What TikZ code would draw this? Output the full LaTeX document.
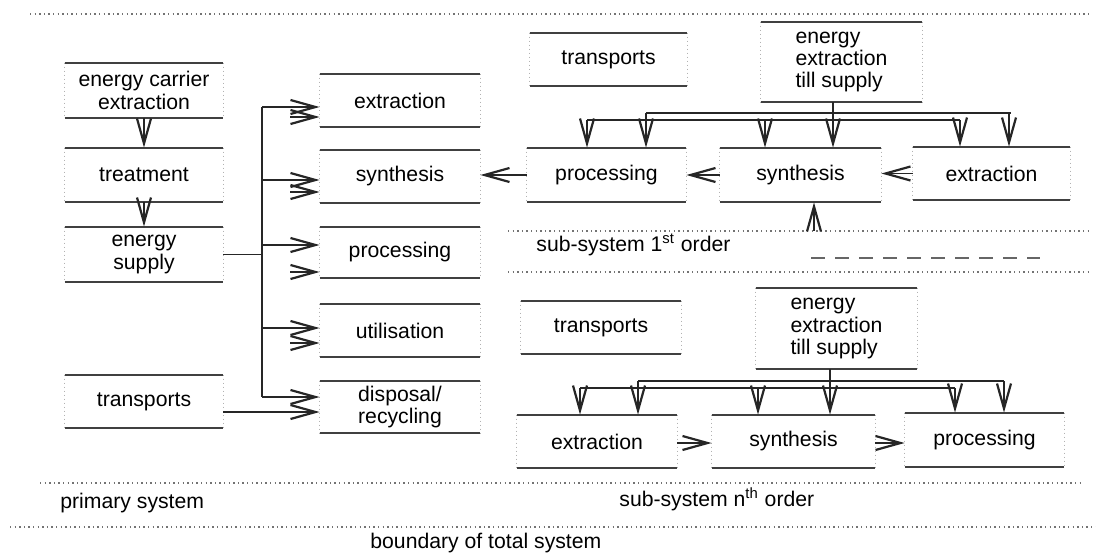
\documentclass[tikz,border=0pt]{standalone}
\usepackage{fontspec}
\setmainfont{Liberation Sans}
\usetikzlibrary{arrows.meta}

\tikzset{
  unit/.style={rectangle, inner sep=2pt, align=center, font=\fontsize{10.6pt}{11.2pt}\selectfont},
  rim/.style={line width=1pt, draw=black!75},
  flank/.style={line width=0.4pt, draw=black!30, dash pattern=on 0.6pt off 1.4pt},
  conn/.style={line width=0.6pt, draw=black!85, ->},
  fence/.style={line width=0.6pt, draw=black!55, dash pattern=on 0.7pt off 1.6pt},
  caption/.style={anchor=west, inner sep=0pt, font=\fontsize{10.6pt}{12pt}\selectfont},
  >={Straight Barb[length=12.5pt,width=7pt,line width=1.1pt]}
}

\begin{document}
\begin{tikzpicture}[x=0.5pt, y=-0.5pt]
  \useasboundingbox (0,0) rectangle (1096,558);

  % System boundaries
  \draw[fence] (30,14) -- (1092,14);
  \draw[fence] (508,231) -- (1092,231);
  \draw[fence] (508,272) -- (1092,272);
  \draw[fence] (40,483) -- (1080,483);
  \draw[fence] (10,527) -- (1096,527);
  \draw[line width=0.6pt, draw=black!60, dash pattern=on 7pt off 5pt] (811,258) -- (1040,258);

  % Primary system, chain
  \node[unit, minimum width=79pt, minimum height=27.5pt] (ece) at (144,90.5) {energy carrier\\extraction};
  \node[unit, minimum width=79pt, minimum height=27pt] (treat) at (144,175) {treatment};
  \node[unit, minimum width=79pt, minimum height=27.5pt] (esup) at (144,254.5) {energy\\supply};
  \node[unit, minimum width=79pt, minimum height=26.5pt] (ptran) at (144,401.5) {transports};

  % Primary system, stages
  \node[unit, minimum width=80pt, minimum height=26.5pt] (mext) at (400,100.5) {extraction};
  \node[unit, minimum width=80pt, minimum height=26.5pt] (msyn) at (400,176.5) {synthesis};
  \node[unit, minimum width=80pt, minimum height=25.5pt] (mproc) at (400,252.5) {processing};
  \node[unit, minimum width=80pt, minimum height=26.5pt] (mutil) at (400,330.5) {utilisation};
  \node[unit, minimum width=80pt, minimum height=26pt] (mdisp) at (400,407) {disposal/\\recycling};

  % Sub-system 1st order
  \node[unit, minimum width=78.5pt, minimum height=26.5pt] (stran1) at (608.5,59.5) {transports};
  \node[unit, minimum width=80.5pt, minimum height=40pt, align=left] (sene1) at (841.5,62) {energy\\extraction\\till supply};
  \node[unit, minimum width=79.5pt, minimum height=27pt] (proc1) at (606.5,175) {processing};
  \node[unit, minimum width=80.5pt, minimum height=27pt] (syn1) at (800.5,175) {synthesis};
  \node[unit, minimum width=78.5pt, minimum height=26.5pt] (ext1) at (991.5,173.5) {extraction};

  % Sub-system nth order
  \node[unit, minimum width=80pt, minimum height=26.5pt] (stran2) at (601,327.5) {transports};
  \node[unit, minimum width=80.5pt, minimum height=40.5pt, align=left] (sene2) at (836.5,328.5) {energy\\extraction\\till supply};
  \node[unit, minimum width=80pt, minimum height=26.5pt] (ext2) at (597,441.5) {extraction};
  \node[unit, minimum width=81.5pt, minimum height=26.5pt] (syn2) at (793.5,441.5) {synthesis};
  \node[unit, minimum width=79.5pt, minimum height=27pt] (proc2) at (984.5,440) {processing};

  % Box edges
  \foreach \n in {ece,treat,esup,ptran,mext,msyn,mproc,mutil,mdisp,stran1,sene1,proc1,syn1,ext1,stran2,sene2,ext2,syn2,proc2} {
    \draw[rim] (\n.north west) -- (\n.north east) (\n.south west) -- (\n.south east);
    \draw[flank] (\n.north west) -- (\n.south west) (\n.north east) -- (\n.south east);
  }

  % Primary flows
  \draw[conn] (ece) -- (treat);
  \draw[conn] (treat) -- (esup);
  \coordinate (bus) at (262,0);
  \draw[conn, -] (esup.east) -- (esup.east -| bus);
  \draw[conn, -] (bus |- 0,107) -- (bus |- 0,397);
  \foreach \n/\y in {mext/107, msyn/180, mproc/245, mutil/328, mdisp/397}
    \draw[conn] (bus |- 0,\y) -- (\n.west |- 0,\y);
  \foreach \n/\y in {mext/117, msyn/192, mproc/272, mutil/343}
    \draw[conn] (290,\y) -- (\n.west |- 0,\y);
  \draw[conn] (ptran.east |- 0,412) -- (mdisp.west |- 0,412);

  % Sub-system 1st order flows
  \draw[conn] (proc1.west) -- (proc1.west -| msyn.east);
  \draw[conn] (syn1.west) -- (proc1.east);
  \draw[conn] (ext1.west) -- (syn1.east |- ext1.west);
  \draw[conn, -] (587,120) -- (960,120);
  \draw[conn, -] (646,113) -- (1011,113);
  \draw[conn, -] (sene1.south -| 833,0) -- (833,113);
  \foreach \x/\y/\n in {587/120/proc1, 646/113/proc1, 765/120/syn1, 833/113/syn1, 960/120/ext1, 1009/113/ext1}
    \draw[conn] (\x,\y) -- (\n.north -| \x,0);
  \coordinate (feed1) at (814,231);
  \draw[conn] (feed1) -- (syn1.south -| feed1);

  % Sub-system nth order flows
  \draw[conn, -] (580,388) -- (955,388);
  \draw[conn, -] (638,381) -- (1004,381);
  \draw[conn, -] (sene2.south -| 830,0) -- (830,381);
  \foreach \x/\y/\n in {580/388/ext2, 638/381/ext2, 758/388/syn2, 830/381/syn2, 955/388/proc2, 1004/381/proc2}
    \draw[conn] (\x,\y) -- (\n.north -| \x,0);
  \draw[conn] (ext2.east |- 0,443) -- (syn2.west |- 0,443);
  \draw[conn] (syn2.east |- 0,443) -- (proc2.west |- 0,443);

  % Captions
  \node[caption] (cprim) at (60,503) {primary system};
  \node[caption] (csub1) at (536,245) {sub-system 1\textsuperscript{st} order};
  \node[caption] (csubn) at (619,499) {sub-system n\textsuperscript{th} order};
  \node[caption] (ctot) at (370,543) {boundary of total system};
\end{tikzpicture}
\end{document}
